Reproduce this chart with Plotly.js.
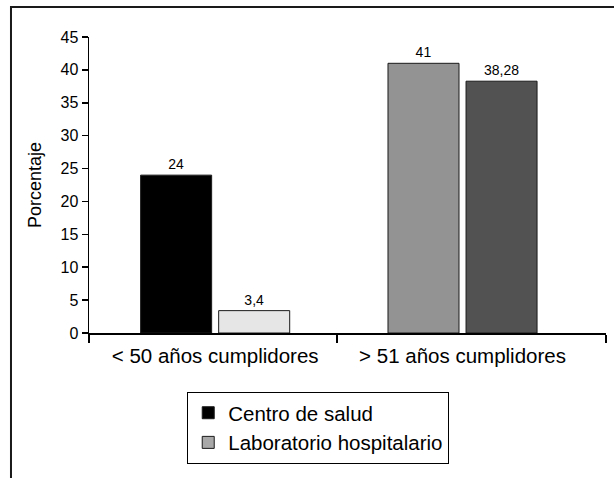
<!DOCTYPE html>
<html>
<head>
<meta charset="utf-8">
<script src="https://cdn.plot.ly/plotly-3.0.1.min.js"></script>
<style>html,body{margin:0;padding:0;background:#fff;}#chart{width:614px;height:478px;}</style>
</head>
<body>
<div id="chart"></div>
<script>
// Data
const categories = ['< 50 años cumplidores', '> 51 años cumplidores'];
const seriesNames = ['Centro de salud', 'Laboratorio hospitalario'];
const centroSalud = [24, 41];
const laboratorioHospitalario = [3.4, 38.28];
const yTicks = [0, 5, 10, 15, 20, 25, 30, 35, 40, 45];
const yTitle = 'Porcentaje';

const FONT = '"Liberation Sans", Arial, Helvetica, sans-serif';
const catIndex = categories.map((_, i) => i);
const X_RANGE = [-0.51, 1.58];

const common = {
  type: 'bar',
  x: catIndex,
  texttemplate: '%{y}',
  textposition: 'outside',
  cliponaxis: false,
  textfont: {family: FONT, size: 14, color: '#000'},
  hoverinfo: 'y+name'
};

const traces = [
  Object.assign({}, common, {
    name: seriesNames[0],
    y: centroSalud,
    marker: {
      color: [0, 1], cmin: 0, cmax: 1, showscale: false,
      colorscale: [[0, '#000000'], [0.5, '#000000'], [1, '#939393']],
      line: {color: '#1a1a1a', width: 1}
    }
  }),
  Object.assign({}, common, {
    name: seriesNames[1],
    y: laboratorioHospitalario,
    marker: {
      color: [0, 1], cmin: 0, cmax: 1, showscale: false,
      colorscale: [[0, '#e6e6e6'], [0.5, '#a8a8a8'], [1, '#525252']],
      line: {color: '#1a1a1a', width: 1}
    }
  })
];

const layout = {
  width: 614, height: 478,
  margin: {l: 89, r: 8, t: 37, b: 145},
  paper_bgcolor: '#fff', plot_bgcolor: '#fff',
  separators: ',.',
  font: {family: FONT, color: '#000'},
  barmode: 'group',
  bargap: 0.369,
  bargroupgap: 0.09,
  showlegend: true,
  legend: {
    x: 0.19, xanchor: 'left', y: -0.199, yanchor: 'top',
    bordercolor: '#000', borderwidth: 1, bgcolor: '#fff',
    font: {family: FONT, size: 20.5, color: '#000'},
    traceorder: 'normal'
  },
  xaxis: {
    type: 'linear',
    range: X_RANGE,
    tickmode: 'array', tickvals: catIndex, ticktext: categories,
    showline: true, linecolor: '#000', linewidth: 1.5,
    ticks: 'outside', ticklen: 0, tickcolor: 'rgba(0,0,0,0)',
    tickfont: {family: FONT, size: 20.5, color: '#000'},
    ticklabelstandoff: 4,
    minor: {
      tickmode: 'array', tickvals: [-0.51, 0.492, 1.58],
      ticks: 'outside', ticklen: 8, tickwidth: 1.5, tickcolor: '#000',
      showgrid: false
    },
    showgrid: false, zeroline: false, fixedrange: true
  },
  yaxis: {
    range: [0, 45],
    tickvals: yTicks,
    ticktext: yTicks.map(String),
    showline: true, linecolor: '#000', linewidth: 1.5,
    ticks: 'outside', ticklen: 6, tickwidth: 1.5, tickcolor: '#000',
    tickfont: {family: FONT, size: 16, color: '#000'},
    showgrid: false, zeroline: false, fixedrange: true,
    title: {text: yTitle, font: {family: FONT, size: 18, color: '#000'}, standoff: 14}
  },
  shapes: [{
    type: 'rect', xref: 'paper', yref: 'paper',
    x0: -0.1509, x1: 1.2, y0: 1.1014, y1: -0.7,
    line: {color: '#1a1a1a', width: 2}, fillcolor: 'rgba(0,0,0,0)', layer: 'below'
  }]
};

Plotly.newPlot('chart', traces, layout, {displayModeBar: false, staticPlot: true});
</script>
</body>
</html>
